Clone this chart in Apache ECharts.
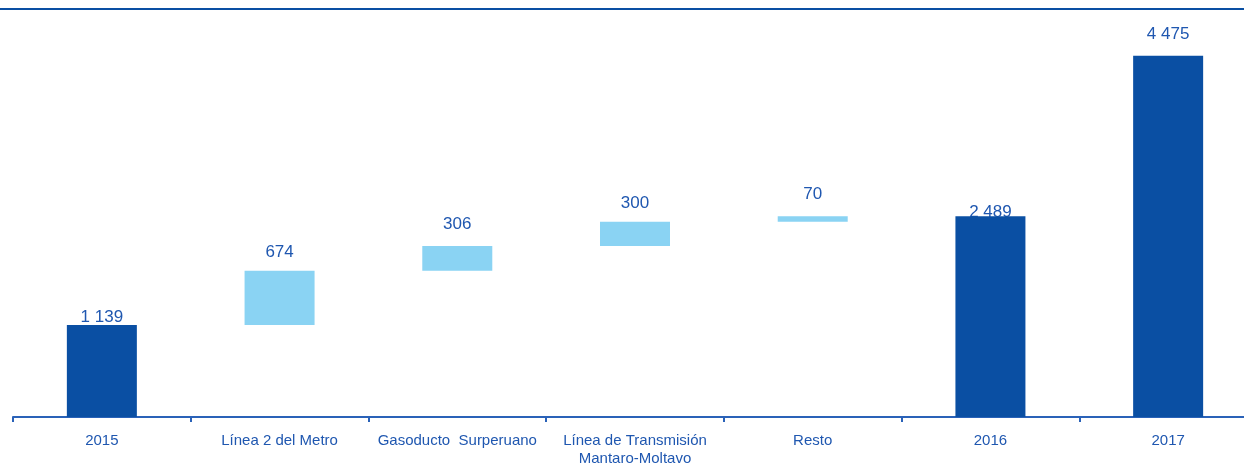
<!DOCTYPE html>
<html>
<head>
<meta charset="utf-8">
<script src="https://cdn.jsdelivr.net/npm/echarts@6/dist/echarts.min.js"></script>
<style>
  html, body { margin: 0; padding: 0; background: #ffffff; }
  #chart { width: 1244px; height: 466px; }
</style>
</head>
<body>
<div id="chart"></div>
<script>
// waterfall data
const categories = ['2015', 'Línea 2 del Metro', 'Gasoducto  Surperuano', 'Línea de Transmisión\nMantaro-Moltavo', 'Resto', '2016', '2017'];
const stepValues = [1139, 674, 306, 300, 70, 2489, 4475];
const isTotal = [true, false, false, false, false, true, true];
const valueLabels = ['1 139', '674', '306', '300', '70', '2 489', '4 475'];

const DARK = '#0a4fa3';
const LIGHT = '#8ad3f3';
const TEXT = '#1f57b0';

// invisible base under each step
let running = 0;
const baseValues = stepValues.map((v, i) => {
    if (isTotal[i]) { running = v; return 0; }
    const b = running;
    running += v;
    return b;
});
const topValues = stepValues.map((v, i) => baseValues[i] + v);

// label vertical nudges (px)
const labelShift = [1, -10, -13, -10, -13, 5, -13];

const chartDom = document.getElementById('chart');
const myChart = echarts.init(chartDom, null, { renderer: 'canvas' });

const option = {
    animation: false,
    grid: {
        left: 13, top: 13.5, bottom: 49, width: 1244,
        containLabel: false,
        outerBoundsMode: 'none'
    },
    xAxis: {
        type: 'category',
        data: categories,
        axisLine: { lineStyle: { color: '#2a62b8', width: 2 } },
        axisTick: { show: true, length: 5, lineStyle: { color: '#2a62b8', width: 2 } },
        axisLabel: {
            interval: 0,
            margin: 15,
            color: TEXT,
            fontFamily: 'Liberation Sans, Arial, sans-serif',
            fontSize: 15,
            lineHeight: 18
        }
    },
    yAxis: {
        type: 'value',
        min: 0,
        max: 5000,
        show: false,
        splitLine: { show: false }
    },
    graphic: [{
        type: 'rect',
        shape: { x: 0, y: 8, width: 1244, height: 2 },
        style: { fill: DARK },
        silent: true
    }],
    series: [
        {
            name: 'labels',
            type: 'bar',
            z: 1,
            barWidth: 70,
            barGap: '-100%',
            data: topValues,
            itemStyle: { color: 'transparent' },
            label: {
                show: true,
                position: 'top',
                distance: 0,
                color: TEXT,
                fontFamily: 'Liberation Sans, Arial, sans-serif',
                fontSize: 17,
                formatter: p => valueLabels[p.dataIndex]
            },
            labelLayout: p => ({ dy: labelShift[p.dataIndex] }),
            silent: true
        },
        {
            name: 'base',
            type: 'bar',
            stack: 'wf',
            z: 2,
            barWidth: 70,
            data: baseValues,
            itemStyle: { color: 'transparent' },
            silent: true
        },
        {
            name: 'value',
            type: 'bar',
            stack: 'wf',
            z: 2,
            barWidth: 70,
            data: stepValues.map((v, i) => ({
                value: v,
                itemStyle: { color: isTotal[i] ? DARK : LIGHT }
            }))
        }
    ]
};

myChart.setOption(option, true);
</script>
</body>
</html>
